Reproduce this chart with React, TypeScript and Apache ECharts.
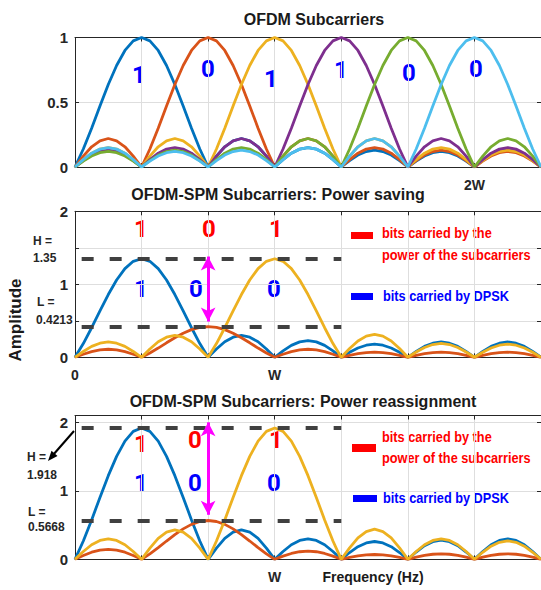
import React, { useEffect, useRef } from 'react';
import * as echarts from 'echarts';

const FONT = "'Liberation Sans', Arial, Helvetica, sans-serif";
const BIT_FONT = "Roboto, 'Liberation Sans', sans-serif";
const AXIS_COLOR = '#262626';
const GRID_COLOR = '#dedede';

// Frequency axis: 0 .. 7 subcarrier spacings
const X_MAX = 7;

// Normalised lobe shapes sampled every 1/8 of a subcarrier spacing
const mainLobeShape = [1, 0.974, 0.9, 0.784, 0.637, 0.471, 0.3, 0.139, 0];
const sideLobeShape = [0, 0.38, 0.71, 0.92, 1, 0.92, 0.71, 0.38, 0];

// ---- Panel 1: OFDM Subcarriers ----
const topColors = ['#0072BD', '#D95319', '#EDB120', '#7E2F8E', '#77AC30', '#4DBEEE'];
const topCenters = [1, 2, 3, 4, 5, 6];
const topAmplitudes = [1, 1, 1, 1, 1, 1];
// side-lobe peak heights in intervals [0,1],[1,2],...,[6,7] (null = main lobe)
const topSideLobes = [
  [null, null, 0.22, 0.15, 0.13, 0.12, 0.14],
  [0.22, null, null, 0.22, 0.15, 0.13, 0.12],
  [0.15, 0.22, null, null, 0.22, 0.15, 0.13],
  [0.13, 0.15, 0.22, null, null, 0.22, 0.15],
  [0.12, 0.13, 0.15, 0.22, null, null, 0.22],
  [0.15, 0.12, 0.13, 0.15, 0.22, null, null],
];
const topBits = ['1', '0', '1', '1', '0', '0'];
const topXTickValues = [6];
const topXTickTexts = ['2W'];
const topYTicks = [0, 0.5, 1];

// ---- Panel 2: Power saving ----
const spmColors = ['#0072BD', '#D95319', '#EDB120'];
const saveCenters = [1, 2, 3];
const saveAmplitudes = [1.35, 0.4213, 1.35];
const saveSideLobes = [
  [null, null, 0.3, 0.23, 0.18, 0.21, 0.21],
  [0.11, null, null, 0.11, 0.07, 0.07, 0.07],
  [0.21, 0.3, null, null, 0.315, 0.19, 0.18],
];
const saveH = 1.35;
const saveL = 0.4213;
const saveArrow = [0.49, 1.38];
const savePowerBits = ['1', '0', '1'];
const saveDpskBits = ['1', '0', '0'];
const saveXTickValues = [0, 3];
const saveXTickTexts = ['0', 'W'];

// ---- Panel 3: Power reassignment ----
const reCenters = [1, 2, 3];
const reAmplitudes = [1.918, 0.5668, 1.918];
const reSideLobes = [
  [null, null, 0.43, 0.3, 0.26, 0.28, 0.3],
  [0.146, null, null, 0.12, 0.07, 0.08, 0.08],
  [0.3, 0.43, null, null, 0.44, 0.3, 0.27],
];
const reH = 1.918;
const reL = 0.5668;
const reArrow = [0.65, 2.0];
const rePowerBits = ['1', '0', '1'];
const reDpskBits = ['1', '0', '0'];
const reXTickValues = [3];
const reXTickTexts = ['W'];

const DASH_START = 0.1;
const DASH_END = 4;

function buildCurve(center: number, amp: number, side: (number | null)[]) {
  const pts: number[][] = [];
  for (let j = 0; j < X_MAX; j++) {
    for (let i = 0; i <= 8; i++) {
      if (i === 0 && j > 0) continue;
      const x = j + i / 8;
      let y: number;
      if (j === center - 1) y = amp * mainLobeShape[8 - i];
      else if (j === center) y = amp * mainLobeShape[i];
      else y = (side[j] ?? 0) * sideLobeShape[i];
      pts.push([x, y]);
    }
  }
  return pts;
}

const grids = [
  { left: 75, top: 37.5, width: 466, height: 129.5 },
  { left: 75, top: 211.3, width: 466, height: 146 },
  { left: 75, top: 415.5, width: 466, height: 143.8 },
];

function txt(text: string, x: number, y: number, size: number, color: string, align = 'center', extra: any = {}, family = FONT) {
  return {
    type: 'text',
    x,
    y,
    silent: true,
    ...extra,
    style: {
      text,
      fill: color,
      fontSize: size,
      fontWeight: 'bold',
      fontFamily: family,
      align,
      verticalAlign: 'middle',
      textAlign: align,
      textVerticalAlign: 'middle',
    },
  };
}

export default function App() {
  const ref = useRef<HTMLDivElement>(null);

  useEffect(() => {
    if (!ref.current) return;
    const chart = echarts.init(ref.current, null, { renderer: 'svg' });

    const xAxis: any[] = [];
    const yAxis: any[] = [];
    const axisLineStyle = { color: AXIS_COLOR, width: 1 };

    const xLabelSets = [
      [topXTickValues, topXTickTexts],
      [saveXTickValues, saveXTickTexts],
      [reXTickValues, reXTickTexts],
    ];
    const yConf = [
      { max: 1, interval: 0.5, fmt: (v: number) => (topYTicks.includes(v) ? String(v) : '') },
      { max: 2, interval: 0.5, fmt: (v: number) => (Number.isInteger(v) ? String(v) : '') },
      { max: 2.1, interval: 1, fmt: (v: number) => (Number.isInteger(v) ? String(v) : '') },
    ];

    for (let g = 0; g < 3; g++) {
      const [vals, texts] = xLabelSets[g] as [number[], string[]];
      xAxis.push({
        type: 'value', gridIndex: g, min: 0, max: X_MAX, interval: 1, position: 'bottom',
        axisLine: { show: true, onZero: false, lineStyle: axisLineStyle },
        axisTick: { show: true, inside: true, length: 4, lineStyle: axisLineStyle },
        axisLabel: {
          show: true, margin: 11, fontSize: 14, fontWeight: 'bold', color: AXIS_COLOR, fontFamily: FONT,
          formatter: (v: number) => { const k = vals.indexOf(v); return k >= 0 ? texts[k] : ''; },
        },
        splitLine: { show: true, lineStyle: { color: GRID_COLOR, width: 1 } },
      });
      xAxis.push({
        type: 'value', gridIndex: g, min: 0, max: X_MAX, interval: 1, position: 'top',
        axisLine: { show: true, onZero: false, lineStyle: axisLineStyle },
        axisTick: { show: true, inside: true, length: 4, lineStyle: axisLineStyle },
        axisLabel: { show: false }, splitLine: { show: false },
      });
      const yc = yConf[g];
      yAxis.push({
        type: 'value', gridIndex: g, min: 0, max: yc.max, interval: yc.interval, position: 'left',
        axisLine: { show: true, onZero: false, lineStyle: axisLineStyle },
        axisTick: { show: true, inside: true, length: 4, lineStyle: axisLineStyle },
        axisLabel: { show: true, margin: 7, fontSize: 15, fontWeight: 'bold', color: AXIS_COLOR, fontFamily: FONT, formatter: yc.fmt, showMaxLabel: true },
        splitLine: { show: true, lineStyle: { color: GRID_COLOR, width: 1 } },
      });
      yAxis.push({
        type: 'value', gridIndex: g, min: 0, max: yc.max, interval: yc.interval, position: 'right',
        axisLine: { show: true, onZero: false, lineStyle: axisLineStyle },
        axisTick: { show: true, inside: true, length: 4, lineStyle: axisLineStyle },
        axisLabel: { show: false }, splitLine: { show: false },
      });
    }

    const dash = { color: '#404040', width: 4, type: [12, 16] };
    const makeMarkLine = (H: number, L: number, arrow: number[]) => ({
      silent: true,
      symbol: ['none', 'none'],
      label: { show: false },
      data: [
        [{ coord: [DASH_START, H], lineStyle: dash }, { coord: [DASH_END, H] }],
        [{ coord: [DASH_START, L], lineStyle: dash }, { coord: [DASH_END, L] }],
        [
          { coord: [2, arrow[0]], symbol: 'arrow', symbolSize: [11, 14], lineStyle: { color: '#ff00ff', width: 3, type: 'solid' }, itemStyle: { color: '#ff00ff' } },
          { coord: [2, arrow[1]], symbol: 'arrow', symbolSize: [11, 14] },
        ],
      ],
    });

    const series: any[] = [];
    const addCurves = (g: number, centers: number[], amps: number[], sides: (number | null)[][], colors: string[], markLine?: any) => {
      centers.forEach((c, i) => {
        series.push({
          type: 'line', xAxisIndex: 2 * g, yAxisIndex: 2 * g,
          data: buildCurve(c, amps[i], sides[i]),
          symbol: 'none', showSymbol: false, clip: true,
          lineStyle: { color: colors[i], width: 2.8 }, itemStyle: { color: colors[i] },
          z: 2 + i,
          markLine: markLine && i === centers.length - 1 ? markLine : undefined,
        });
      });
    };
    addCurves(0, topCenters, topAmplitudes, topSideLobes, topColors);
    addCurves(1, saveCenters, saveAmplitudes, saveSideLobes, spmColors, makeMarkLine(saveH, saveL, saveArrow));
    addCurves(2, reCenters, reAmplitudes, reSideLobes, spmColors, makeMarkLine(reH, reL, reArrow));

    const BLUE = '#0000ff';
    const RED = '#ff0000';
    const topBitX = [139, 208, 271, 341, 409, 476];
    const topBitY = [75, 69, 79, 70, 73, 69];
    const narrow = { scaleX: 0.85 };
    const bitSize = 24;
    const bit = (b: string, x: number, y: number, color: string) => txt(b, x, y, bitSize, color, 'center', {}, BIT_FONT);

    const elements: any[] = [
      txt('OFDM Subcarriers', 314, 19, 16, '#1a1a1a'),
      txt('OFDM-SPM Subcarriers: Power saving', 278, 194, 16, '#1a1a1a'),
      txt('OFDM-SPM Subcarriers: Power reassignment', 303, 401, 16, '#1a1a1a'),
      txt('Amplitude', 15, 320, 17, '#1a1a1a', 'center', { rotation: Math.PI / 2 }),
      txt('Frequency (Hz)', 373, 577, 14, '#1a1a1a'),
      // H / L annotations
      txt('H =', 33, 241, 12, AXIS_COLOR, 'left'),
      txt(String(saveH), 33, 258, 12, AXIS_COLOR, 'left'),
      txt('L =', 37, 302, 12, AXIS_COLOR, 'left'),
      txt(String(saveL), 36, 320, 12, AXIS_COLOR, 'left'),
      txt('H =', 27, 457, 12, AXIS_COLOR, 'left'),
      txt(String(reH), 27, 475, 12, AXIS_COLOR, 'left'),
      txt('L =', 28, 512, 12, AXIS_COLOR, 'left'),
      txt(String(reL), 28, 527, 12, AXIS_COLOR, 'left'),
      // legends
      { type: 'rect', silent: true, shape: { x: 351, y: 232, width: 22, height: 7 }, style: { fill: RED } },
      txt('bits carried by the', 382, 233, 15, RED, 'left', narrow),
      txt('power of the subcarriers', 382, 255, 15, RED, 'left', narrow),
      { type: 'rect', silent: true, shape: { x: 351, y: 293, width: 22, height: 7 }, style: { fill: BLUE } },
      txt('bits carried by DPSK', 383, 296, 15, BLUE, 'left', narrow),
      { type: 'rect', silent: true, shape: { x: 352, y: 444, width: 24, height: 8 }, style: { fill: RED } },
      txt('bits carried by the', 382, 437, 15, RED, 'left', narrow),
      txt('power of the subcarriers', 382, 458, 15, RED, 'left', narrow),
      { type: 'rect', silent: true, shape: { x: 353, y: 495, width: 24, height: 7 }, style: { fill: BLUE } },
      txt('bits carried by DPSK', 383, 498, 15, BLUE, 'left', narrow),
      // black arrow to H
      { type: 'line', silent: true, shape: { x1: 74, y1: 431, x2: 53, y2: 455 }, style: { stroke: '#000', lineWidth: 2 } },
      { type: 'polygon', silent: true, shape: { points: [[48, 461], [57.5, 456], [51.5, 450.8]] }, style: { fill: '#000' } },
    ];
    topBits.forEach((b, i) => elements.push(bit(b, topBitX[i], topBitY[i], BLUE)));
    const saveX = [141, 209, 276];
    const saveDX = [141, 196, 274];
    savePowerBits.forEach((b, i) => elements.push(bit(b, saveX[i], 229, RED)));
    saveDpskBits.forEach((b, i) => elements.push(bit(b, saveDX[i], 289, BLUE)));
    const reX = [141, 195, 276];
    const reRY = [444, 440, 440];
    const reDX = [141, 195, 274];
    rePowerBits.forEach((b, i) => elements.push(bit(b, reX[i], reRY[i], RED)));
    reDpskBits.forEach((b, i) => elements.push(bit(b, reDX[i], 483, BLUE)));

    chart.setOption({
      animation: false,
      backgroundColor: '#ffffff',
      grid: grids.map((g) => ({ ...g, containLabel: false, outerBoundsMode: 'none' })),
      xAxis,
      yAxis,
      series,
      graphic: { elements },
    });

    return () => chart.dispose();
  }, []);

  return (
    <div
      ref={ref}
      style={{ position: 'absolute', left: 0, top: 0, width: 541, height: 590, background: '#fff' }}
    />
  );
}
